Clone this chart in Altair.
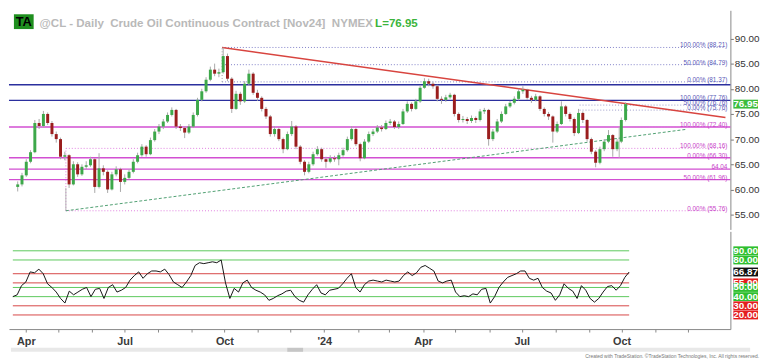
import altair as alt
import pandas as pd

# ---------------- data ----------------
closes = [61.0, 62.8, 65.5, 67.4, 73.2, 72.6, 75.0, 73.2, 71.0, 70.0,
          66.5, 66.8, 61.0, 65.0, 63.0, 64.5, 64.8, 66.0, 60.5, 64.2,
          63.5, 60.0, 63.0, 64.0, 61.5, 62.3, 63.5, 65.5, 66.8, 68.5,
          67.0, 69.8, 71.5, 72.5, 73.5, 74.8, 75.8, 72.5, 72.2, 71.3,
          72.5, 74.8, 77.8, 79.5, 81.8, 83.8, 83.0, 83.3, 86.5, 82.0,
          76.0, 79.0, 77.5, 81.0, 83.0, 79.2, 78.2, 76.0, 74.5, 71.0,
          72.0, 70.0, 68.0, 71.0, 72.5, 68.5, 65.5, 63.5, 65.0, 67.0,
          68.0, 66.0, 65.5, 66.2, 66.0, 66.8, 67.8, 70.0, 72.0, 69.0,
          66.2, 69.5, 71.0, 71.5, 72.3, 72.0, 73.2, 73.5, 72.4, 73.0,
          75.5, 77.0, 76.0, 77.5, 80.2, 81.5, 81.0, 80.5, 78.0, 77.8,
          78.3, 78.8, 75.0, 73.8, 74.0, 73.6, 74.2, 73.8, 75.5, 75.8,
          70.0, 71.5, 73.5, 75.0, 76.5, 77.2, 78.0, 79.5, 79.8, 78.2,
          77.8, 78.5, 76.0, 75.0, 74.5, 71.5, 73.0, 76.5, 75.0, 74.0,
          71.2, 75.2, 73.8, 70.0, 67.5, 65.3, 68.0, 69.5, 70.8, 68.0,
          69.5, 73.8, 76.95]
first_open = 60.5
highs = [61.6, 63.3, 66.0, 67.8, 73.8, 74.0, 75.6, 75.3, 73.6, 71.5,
         70.3, 67.5, 67.0, 65.6, 65.4, 65.0, 65.6, 66.5, 66.2, 67.2,
         64.8, 63.8, 63.5, 64.6, 64.3, 63.0, 64.0, 66.0, 67.3, 69.0,
         68.8, 70.3, 72.0, 73.0, 74.0, 75.3, 76.3, 76.0, 73.0, 72.5,
         73.0, 75.3, 78.2, 80.0, 82.3, 84.4, 85.0, 84.0, 88.2, 87.0,
         82.3, 79.6, 79.4, 81.5, 83.8, 83.3, 79.8, 78.5, 76.4, 74.8,
         72.6, 72.3, 70.3, 71.5, 73.6, 72.8, 68.8, 65.8, 65.5, 67.5,
         68.6, 68.3, 66.5, 66.8, 66.7, 67.3, 68.3, 70.5, 72.6, 72.3,
         69.3, 70.0, 71.5, 72.0, 72.8, 72.8, 73.7, 74.0, 73.8, 73.5,
         76.0, 77.5, 77.3, 78.0, 80.7, 82.1, 82.0, 81.4, 80.8, 78.5,
         78.8, 79.2, 79.0, 75.3, 74.6, 74.4, 74.7, 74.5, 76.0, 76.2,
         76.0, 72.0, 74.0, 75.5, 77.0, 77.6, 78.5, 80.0, 80.5, 80.0,
         78.6, 79.0, 78.7, 76.3, 75.4, 74.7, 73.5, 77.5, 76.8, 75.3,
         74.3, 76.0, 75.5, 74.0, 70.3, 67.8, 68.5, 70.0, 71.8, 71.0,
         70.0, 74.3, 77.3]
lows = [59.6, 60.6, 62.5, 65.2, 67.2, 72.0, 72.3, 72.8, 70.5, 69.3,
        66.0, 65.8, 60.3, 60.8, 62.5, 62.7, 64.0, 64.5, 59.3, 60.2,
        62.8, 59.3, 59.8, 62.6, 59.5, 61.0, 62.0, 63.2, 65.2, 66.5,
        66.5, 66.8, 69.5, 71.0, 72.0, 73.2, 74.5, 72.0, 71.6, 70.2,
        71.0, 72.2, 74.5, 77.5, 79.2, 81.5, 82.5, 82.3, 83.0, 81.5,
        75.2, 75.8, 76.8, 77.2, 80.6, 78.8, 77.6, 75.5, 74.0, 70.5,
        70.5, 69.6, 67.2, 67.8, 70.6, 68.0, 65.0, 62.8, 63.2, 64.7,
        66.7, 65.5, 64.3, 65.2, 65.5, 64.8, 66.5, 67.5, 69.7, 68.6,
        65.6, 66.0, 69.2, 70.6, 71.2, 71.5, 71.8, 72.8, 72.0, 72.0,
        72.8, 75.2, 75.5, 75.8, 77.2, 80.0, 80.5, 80.0, 77.5, 77.0,
        77.4, 78.0, 74.5, 73.3, 73.3, 73.0, 73.2, 73.2, 73.5, 75.0,
        68.7, 69.6, 71.2, 73.2, 74.8, 76.2, 76.9, 77.7, 79.0, 77.8,
        77.2, 77.5, 75.6, 74.5, 73.8, 69.3, 71.2, 72.8, 74.5, 73.5,
        70.6, 71.0, 73.2, 69.5, 67.0, 64.4, 65.0, 67.6, 69.2, 66.5,
        67.6, 69.2, 73.5]
rsi_vals = [40, 42, 52, 56, 67, 66, 70, 65, 54, 50,
            45, 38, 33, 46, 42, 45, 48, 50, 40, 48,
            49, 38, 50, 53, 45, 47, 50, 58, 63, 67,
            60, 65, 68, 68, 67, 70, 64, 56, 53, 50,
            56, 63, 74, 77, 76, 77, 78, 77, 80, 55,
            38, 49, 45, 55, 58, 50, 47, 45, 42, 36,
            38, 41, 43, 46, 47, 40, 36, 34, 42, 48,
            53, 44, 42, 47, 48, 49, 54, 60, 65, 50,
            45, 53, 57, 58, 57, 56, 58, 57, 56, 57,
            63, 67, 63, 66, 72, 74, 71, 68, 57, 55,
            57, 58, 45, 40, 41, 40, 43, 42, 48, 49,
            33, 40, 50, 56, 61, 63, 65, 68, 68, 60,
            58, 60, 50, 46, 44, 36, 42, 54, 49, 46,
            38, 52, 47, 38, 34, 38, 45, 51, 52, 47,
            52, 61, 66.87]

# horizontal support / resistance lines
solid_prices = [80.80, 77.70, 72.40, 66.30, 64.04, 61.96]
solid_colors = ["#2b2f9e", "#2b2f9e", "#d24fd2", "#d24fd2", "#d24fd2", "#d24fd2"]
fib_prices = [88.21, 84.79, 81.37, 76.76, 75.76, 68.16, 55.76, 72.40]
fib_starts = ["2023-09-27", "2023-09-27", "2023-09-27", "2024-08-26", "2024-08-26",
              "2023-05-04", "2023-05-04", "2024-09-24"]
fib_colors = ["#8080c8", "#8080c8", "#8080c8", "#9a9ac8", "#9a9ac8",
              "#e07ee0", "#e07ee0", "#e07ee0"]
fib_label_prices = [88.21, 84.79, 81.37, 77.76, 76.76, 75.76, 72.40, 68.16, 66.30, 64.04, 61.96, 55.76]
fib_labels = ["100.00% (88.21)", "50.00% (84.79)", "0.00% (81.37)", "100.00% (77.76)",
              "50.00% (76.76)", "0.00% (75.76)", "100.00% (72.40)", "100.00% (68.16)",
              "0.00% (66.30)", "64.04", "50.00% (61.96)", "0.00% (55.76)"]
fib_label_colors = ["#5a5ab8"] * 6 + ["#c83fc8"] * 6

trend_start_dates = ["2023-09-27", "2023-05-04"]
trend_end_dates = ["2025-01-09T07:00:00", "2024-12-03"]
trend_start_prices = [88.21, 55.76]
trend_end_prices = [74.30, 71.92]

rsi_levels = [90, 80, 65, 55, 50, 40, 30, 20]
rsi_level_colors = ["#5cc85c", "#5cc85c", "#d64545", "#d64545", "#5cc85c", "#5cc85c", "#d64545", "#d64545"]
rsi_box_vals = [90, 80, 55, 50, 40, 30, 20]
rsi_box_labels = ["90.00", "80.00", "55.00", "50.00", "40.00", "30.00", "20.00"]
rsi_box_colors = ["#2fbf2f", "#2fbf2f", "#e41e1e", "#2fbf2f", "#2fbf2f", "#e41e1e", "#e41e1e"]
rsi_last = 66.87

last_price = 76.95
price_ticks = [55, 60, 65, 70, 75, 80, 85, 90]

# ---------------- tables ----------------
dates = pd.date_range("2023-03-20", periods=len(closes), freq="4D")
opens = [first_open] + closes[:-1]
df = pd.DataFrame({
    "date": dates.strftime("%Y-%m-%dT%H:%M:%S"),
    "open": opens, "close": closes, "high": highs, "low": lows, "rsi": rsi_vals,
})
df["dir"] = ["up" if c >= o else "down" for o, c in zip(opens, closes)]


def ts(s):
    return s if "T" in s else s + "T00:00:00"


END = "2025-01-09T07:00:00"
solid_df = pd.DataFrame({"price": solid_prices, "color": solid_colors})
fib_df = pd.DataFrame({"price": fib_prices, "start": [ts(s) for s in fib_starts],
                       "end": [END] * len(fib_prices), "color": fib_colors})
fib_lab_df = pd.DataFrame({"price": fib_label_prices, "label": fib_labels, "color": fib_label_colors})
vdot_df = pd.DataFrame({"date": [ts("2023-09-27"), ts("2023-05-04")],
                        "p1": [81.37, 55.76], "p2": [88.21, 68.16],
                        "color": ["#a0a0a0", "#e07ee0"]})
vsolid_df = pd.DataFrame({"date": [ts("2023-05-04"), ts("2024-10-02")],
                          "p1": [55.76, 66.30], "p2": [60.3, 72.40]})
trend_df = pd.DataFrame({"d1": [ts(s) for s in trend_start_dates], "d2": [ts(s) for s in trend_end_dates],
                         "p1": trend_start_prices, "p2": trend_end_prices})
rsi_lvl_df = pd.DataFrame({"level": rsi_levels, "color": rsi_level_colors,
                           "d1": [df["date"].iloc[0]] * len(rsi_levels),
                           "d2": [df["date"].iloc[-1]] * len(rsi_levels)})
rsi_box_df = pd.DataFrame({"val": rsi_box_vals, "label": rsi_box_labels, "color": rsi_box_colors})
rsi_last_df = pd.DataFrame({"val": [rsi_last], "label": [f"{rsi_last:.2f}"]})
last_df = pd.DataFrame({"val": [last_price], "label": [f"{last_price:.2f}"]})
one = pd.DataFrame({"a": [1]})

# ---------------- scales / axes ----------------
W = 731
HP = 222
HR = 99
FONT = "Liberation Sans"
BOX = "M-1,-0.36L1,-0.36L1,0.36L-1,0.36Z"
xdom = alt.Scale(domain=[alt.DateTime(year=2023, month=3, date=16, hours=11),
                         alt.DateTime(year=2025, month=1, date=9, hours=7)])
yp = alt.Scale(domain=[52.06, 95.59], nice=False, zero=False)
yr = alt.Scale(domain=[4.6, 111.2], nice=False, zero=False)

price_axis = alt.Axis(orient="right", values=price_ticks, format=".2f", grid=False,
                      labelFontSize=10, labelColor="#333333", labelFont=FONT,
                      tickSize=3, tickColor="#777777", labelPadding=1, domainColor="#888888")
rsi_axis = alt.Axis(orient="right", labels=False, ticks=False, grid=False, domainColor="#888888")
month_vals = [alt.DateTime(year=y, month=m, date=1) for y, m in
              [(2023, mm) for mm in range(4, 13)] + [(2024, mm) for mm in range(1, 13)]]
label_expr = ("month(datum.value)==0 ? \"'\" + timeFormat(datum.value, '%y') : "
              "(month(datum.value)%3==0 ? timeFormat(datum.value, '%b') : '')")
time_axis = alt.Axis(values=month_vals, labelExpr=label_expr, labelOverlap=False, grid=False,
                     labelFontSize=11, labelFontWeight="bold", labelColor="#3a3a3a", labelFont=FONT,
                     tickSize=3, tickColor="#888888", domainColor="#888888", labelPadding=4)


def yP(f):
    return alt.Y(f, scale=yp, title=None, axis=price_axis)


def yR(f):
    return alt.Y(f, scale=yr, title=None, axis=rsi_axis)


def xP(f):
    return alt.X(f, scale=xdom, title=None, axis=None)


def xR(f):
    return alt.X(f, scale=xdom, title=None, axis=time_axis)


# ---------------- price panel ----------------
solid = alt.Chart(solid_df).mark_rule(strokeWidth=1.4).encode(
    y=yP("price:Q"), color=alt.Color("color:N", scale=None))
fibs = alt.Chart(fib_df).mark_rule(strokeWidth=1, strokeDash=[1, 2]).encode(
    x=xP("start:T"), x2="end:T", y=yP("price:Q"), color=alt.Color("color:N", scale=None))
vdots = alt.Chart(vdot_df).mark_rule(strokeWidth=1, strokeDash=[1, 2]).encode(
    x=xP("date:T"), y=yP("p1:Q"), y2="p2:Q", color=alt.Color("color:N", scale=None))
vsolid = alt.Chart(vsolid_df).mark_rule(strokeWidth=1, color="#b4b4b4").encode(
    x=xP("date:T"), y=yP("p1:Q"), y2="p2:Q")
red_tl = alt.Chart(trend_df.iloc[[0]]).mark_rule(strokeWidth=1.5, color="#d8443f").encode(
    x=xP("d1:T"), x2="d2:T", y=yP("p1:Q"), y2="p2:Q")
green_tl = alt.Chart(trend_df.iloc[[1]]).mark_rule(strokeWidth=1, color="#4f9f72", strokeDash=[3, 2]).encode(
    x=xP("d1:T"), x2="d2:T", y=yP("p1:Q"), y2="p2:Q")
wicks = alt.Chart(df).mark_rule(strokeWidth=1, color="#a9a9a9").encode(
    x=xP("date:T"), y=yP("low:Q"), y2="high:Q")
bodies = alt.Chart(df).mark_bar(width=3).encode(
    x=xP("date:T"), y=yP("open:Q"), y2="close:Q",
    color=alt.Color("dir:N", scale=alt.Scale(domain=["up", "down"], range=["#3da84a", "#9a1d1d"]), legend=None))
fib_text = alt.Chart(fib_lab_df).mark_text(align="right", baseline="bottom", fontSize=6.5, font=FONT, dy=1).encode(
    x=alt.value(W - 3), y=yP("price:Q"), text="label:N", color=alt.Color("color:N", scale=None))
last_box = alt.Chart(last_df).mark_point(shape=BOX, size=625, filled=True, opacity=1, color="#3cbc3c").encode(
    x=alt.value(W + 15.5), y=yP("val:Q"))
last_txt = alt.Chart(last_df).mark_text(color="white", fontWeight="bold", fontSize=10, font=FONT).encode(
    x=alt.value(W + 15.5), y=yP("val:Q"), text="label:N")
ta_box = alt.Chart(one).mark_rect(color="#1f8f1f").encode(
    x=alt.value(5), x2=alt.value(25), y=alt.value(4), y2=alt.value(19))
ta_txt = alt.Chart(one).mark_text(text="TA", fontSize=13, fontWeight="bold", font=FONT, color="#000000").encode(
    x=alt.value(15), y=alt.value(12))
title_txt = alt.Chart(one).mark_text(
    text="@CL - Daily\u00a0\u00a0Crude Oil Continuous Contract [Nov24]\u00a0\u00a0NYMEX",
    align="left", baseline="alphabetic",
    fontSize=11.7, fontWeight="bold", font=FONT, color="#b9b9b9").encode(x=alt.value(31), y=alt.value(16.5))
lval_txt = alt.Chart(one).mark_text(
    text="L=76.95", align="left", baseline="alphabetic",
    fontSize=11.7, fontWeight="bold", font=FONT, color="#3cb43c").encode(x=alt.value(371), y=alt.value(16.5))

price = alt.layer(solid, fibs, vdots, vsolid, red_tl, green_tl, wicks, bodies, fib_text,
                  last_box, last_txt, ta_box, ta_txt, title_txt, lval_txt).properties(width=W, height=HP)

# ---------------- RSI panel ----------------
rsi_lines = alt.Chart(rsi_lvl_df).mark_rule(strokeWidth=1).encode(
    x=xR("d1:T"), x2="d2:T", y=yR("level:Q"), color=alt.Color("color:N", scale=None))
rsi_line = alt.Chart(df).mark_line(color="#151515", strokeWidth=1).encode(
    x=xR("date:T"), y=yR("rsi:Q"))
rsi_boxes = alt.Chart(rsi_box_df).mark_point(shape=BOX, size=625, filled=True, opacity=1).encode(
    x=alt.value(W + 15.5), y=yR("val:Q"), color=alt.Color("color:N", scale=None))
rsi_texts = alt.Chart(rsi_box_df).mark_text(color="white", fontWeight="bold", fontSize=10, font=FONT).encode(
    x=alt.value(W + 15.5), y=yR("val:Q"), text="label:N")
rsi_last_box = alt.Chart(rsi_last_df).mark_point(shape=BOX, size=625, filled=True, opacity=1,
                                                 color="#111111").encode(
    x=alt.value(W + 15.5), y=yR("val:Q"))
rsi_last_txt = alt.Chart(rsi_last_df).mark_text(color="white", fontWeight="bold", fontSize=10,
                                                font=FONT).encode(
    x=alt.value(W + 15.5), y=yR("val:Q"), text="label:N")
scroll = alt.Chart(one).mark_rect(color="#e8e8e8").encode(
    x=alt.value(2), x2=alt.value(W + 20), y=alt.value(HR + 19), y2=alt.value(HR + 23))
thumb = alt.Chart(one).mark_rect(color="#c6c6c6").encode(
    x=alt.value(282), x2=alt.value(298), y=alt.value(HR + 19), y2=alt.value(HR + 23))
credit = alt.Chart(one).mark_text(
    text="Created with TradeStation. \u00a9TradeStation Technologies, Inc. All rights reserved.",
    align="right", baseline="middle", fontSize=5, font=FONT, color="#777777").encode(
    x=alt.value(W + 29), y=alt.value(HR + 27))

rsi = alt.layer(rsi_lines, rsi_line, rsi_boxes, rsi_texts, rsi_last_box, rsi_last_txt,
                scroll, thumb, credit).properties(width=W, height=HR)

chart = alt.vconcat(price, rsi, spacing=2).properties(
    padding={"left": 0, "top": 0, "right": 0, "bottom": 0},
    background="white",
).configure_view(stroke=None)

chart.save("out.html", embed_options={"renderer": "svg", "actions": False})
